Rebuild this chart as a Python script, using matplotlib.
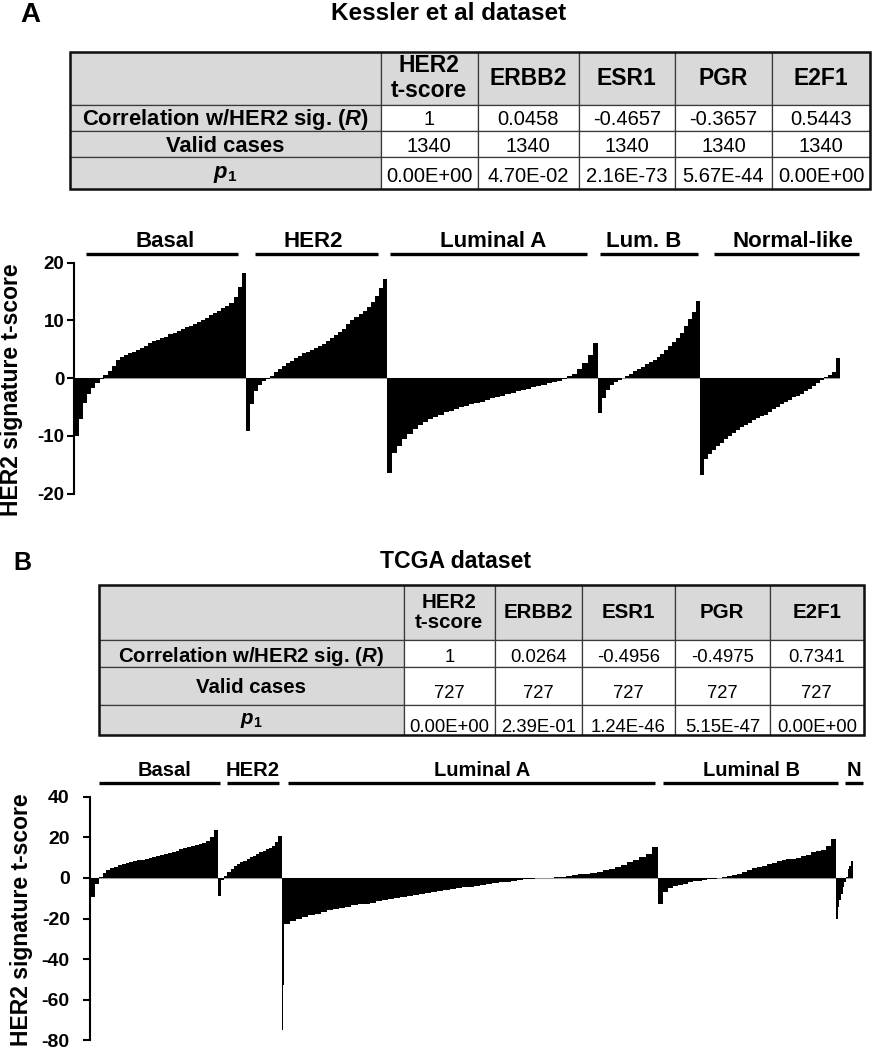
import numpy as np
import matplotlib
matplotlib.use("Agg")
import matplotlib.pyplot as plt
from matplotlib.patches import Rectangle

plt.rcParams['font.family'] = ['Liberation Sans', 'DejaVu Sans']
plt.rcParams['mathtext.fontset'] = 'custom'
plt.rcParams['mathtext.rm'] = 'Liberation Sans'
plt.rcParams['mathtext.it'] = 'Liberation Sans:italic'
plt.rcParams['mathtext.bf'] = 'Liberation Sans:bold'
try:
    plt.rcParams['mathtext.bfit'] = 'Liberation Sans:italic:bold'
    R_LABEL = r"Correlation w/HER2 sig. ($\mathbfit{R}$)"
    P_LABEL = r"$\mathbfit{p}_{\mathbf{1}}$"
except KeyError:
    R_LABEL = r"Correlation w/HER2 sig. ($\mathit{R}$)"
    P_LABEL = r"$\mathit{p}_{\mathbf{1}}$"

# ---------------- data ----------------
table_cols = ["HER2\nt-score", "ERBB2", "ESR1", "PGR", "E2F1"]
table_rows = [R_LABEL, "Valid cases", P_LABEL]

kessler_r = ["1", "0.0458", "-0.4657", "-0.3657", "0.5443"]
kessler_valid = ["1340", "1340", "1340", "1340", "1340"]
kessler_p = ["0.00E+00", "4.70E-02", "2.16E-73", "5.67E-44", "0.00E+00"]

tcga_r = ["1", "0.0264", "-0.4956", "-0.4975", "0.7341"]
tcga_valid = ["727", "727", "727", "727", "727"]
tcga_p = ["0.00E+00", "2.39E-01", "1.24E-46", "5.15E-47", "0.00E+00"]

kessler_groups = ["Basal", "HER2", "Luminal A", "Lum. B", "Normal-like"]
kessler_counts = [299, 247, 370, 178, 246]
kessler_basal = [-10.0, -7.0, -4.3, -2.8, -1.7, -0.9, -0.2, 0.6, 1.3, 2.1, 3.2, 3.6,
                 4.0, 4.3, 4.6, 4.8, 5.2, 5.6, 6.1, 6.4, 6.7, 7.0, 7.2, 7.6, 7.9, 8.2,
                 8.5, 8.8, 9.1, 9.4, 9.8, 10.1, 10.5, 11.0, 11.3, 11.7, 12.1, 12.5,
                 13.0, 14.0, 15.8, 18.3]
kessler_her2 = [-9.2, -4.5, -2.2, -1.1, -0.5, -0.1, 0.4, 1.0, 1.6, 2.1, 2.6, 3.0,
                3.5, 3.9, 4.3, 4.6, 4.9, 5.2, 5.6, 6.0, 6.4, 6.9, 7.4, 8.0, 8.6, 9.3,
                10.0, 10.6, 11.1, 11.7, 12.4, 13.2, 14.3, 15.6, 17.2]
kessler_luma = [-16.4, -13.0, -11.8, -10.6, -9.6, -8.8, -8.1, -7.6, -7.1, -6.7,
                -6.3, -5.9, -5.6, -5.3, -5.0, -4.75, -4.5, -4.3, -4.05, -3.8, -3.5,
                -3.25, -3.0, -2.75, -2.55, -2.3, -2.05, -1.8, -1.55, -1.35, -1.15,
                -0.9, -0.6, -0.4, -0.1, 0.3, 0.8, 1.6, 2.7, 4.0, 6.1]
kessler_lumb = [-6.1, -3.5, -2.0, -1.2, -0.7, -0.3, 0.0, 0.3, 0.8, 1.2, 1.6, 2.0,
                2.4, 2.8, 3.2, 3.6, 4.2, 4.9, 5.6, 6.3, 7.0, 7.9, 9.0, 10.2, 11.5, 13.4]
kessler_normal = [-16.8, -14.0, -13.2, -12.5, -11.8, -11.2, -10.6, -10.0, -9.5, -9.0,
                  -8.5, -8.1, -7.7, -7.3, -6.9, -6.6, -6.3, -5.9, -5.4, -5.0, -4.5,
                  -4.1, -3.7, -3.3, -3.0, -2.7, -2.3, -1.9, -1.4, -0.8, -0.3, 0.2,
                  0.5, 1.0, 3.5]

tcga_groups = ["Basal", "HER2", "Luminal A", "Luminal B", "N"]
tcga_counts = [121, 61, 359, 170, 16]
tcga_basal = [-9.5, -3.0, 0.3, 2.2, 3.8, 4.8, 5.5, 6.2, 6.8, 7.3, 7.8, 8.3, 8.6, 9.0,
              9.3, 9.6, 10.1, 10.6, 11.1, 11.6, 12.1, 12.7, 13.4, 14.0, 14.5, 15.0,
              15.5, 16.0, 16.6, 17.3, 18.2, 20.0, 23.5]
tcga_her2 = [-8.7, -1.0, 0.8, 2.8, 4.5, 5.8, 6.9, 7.7, 8.5, 9.4, 10.2, 11.0, 11.8,
             12.6, 13.4, 14.1, 14.8, 15.8, 17.5, 20.8]
# two single extreme samples at the start of Luminal A
tcga_luma_outliers = [-75.0, -53.0]
tcga_luma = [-22.6, -21.4, -20.4, -19.5, -18.4, -17.6, -16.7, -16.0, -15.2,
             -14.7, -14.2, -13.5, -13.1, -12.7, -12.2, -11.6, -11.1, -10.5, -10.0,
             -9.5, -9.0, -8.5, -8.0, -7.4, -6.9, -6.4, -6.0, -5.6, -5.1, -4.7, -4.3,
             -3.9, -3.5, -3.1, -2.7, -2.2, -1.8, -1.4, -1.0, -0.7, -0.4, -0.2, -0.1,
             0.0, 0.2, 0.6, 1.0, 1.4, 1.7, 2.0, 2.5, 3.0, 3.7, 4.5, 5.4, 6.5, 7.7,
             9.0, 10.2, 11.8, 15.0]
tcga_lumb = [-12.8, -7.0, -5.2, -4.2, -3.4, -2.8, -2.2, -1.7, -1.3, -1.0, -0.7, -0.4,
             -0.1, 0.3, 0.7, 1.2, 2.0, 3.0, 4.1, 4.9, 5.5, 6.1, 6.8, 7.5, 8.2, 8.7,
             9.1, 9.5, 10.0, 10.6, 11.5, 12.6, 13.3, 13.9, 15.5, 19.2]
tcga_normal = [-20.2, -14.4, -11.1, -7.9, -4.6, -2.1, 0.3, 4.4, 6.1, 8.5]

# ---------------- layout ----------------
W, H = 873, 1050
fig = plt.figure(figsize=(W / 100, H / 100), dpi=100)
bg = fig.add_axes([0, 0, 1, 1])
bg.set_xlim(0, W)
bg.set_ylim(H, 0)
bg.axis('off')


def px_axes(x0, y0, x1, y1):
    return fig.add_axes([x0 / W, 1 - y1 / H, (x1 - x0) / W, (y1 - y0) / H])


def draw_table(col_edges, row_edges, cells, fs_head, fs_bold, fs_num, lab_dy, num_dy):
    grey = '#d9d9d9'
    nr = len(row_edges) - 1
    nc = len(col_edges) - 1
    for r in range(nr):
        for c in range(nc):
            x0, x1 = col_edges[c], col_edges[c + 1]
            y0, y1 = row_edges[r], row_edges[r + 1]
            fc = grey if (r == 0 or c == 0) else 'white'
            bg.add_patch(Rectangle((x0, y0), x1 - x0, y1 - y0, facecolor=fc,
                                   edgecolor='#3a3a3a', linewidth=0.9))
    bg.add_patch(Rectangle((col_edges[0], row_edges[0]), col_edges[-1] - col_edges[0],
                           row_edges[-1] - row_edges[0], fill=False,
                           edgecolor='#111111', linewidth=1.8))
    for c, lab in enumerate(table_cols):
        cx = (col_edges[c + 1] + col_edges[c + 2]) / 2
        cy = (row_edges[0] + row_edges[1]) / 2
        bg.text(cx, cy, lab, ha='center', va='center', fontsize=fs_head,
                fontweight='bold', linespacing=1.1)
    for r, lab in enumerate(table_rows):
        cx = (col_edges[0] + col_edges[1]) / 2
        cy = (row_edges[r + 1] + row_edges[r + 2]) / 2
        bg.text(cx, cy + lab_dy[r], lab, ha='center', va='center', fontsize=fs_bold,
                fontweight='bold')
        for c, val in enumerate(cells[r]):
            vx = (col_edges[c + 1] + col_edges[c + 2]) / 2
            bg.text(vx, cy + num_dy[r], val, ha='center', va='center',
                    fontsize=fs_num)


def draw_chart(ax, counts, series, groups, spans, label_dx, line_y, label_y,
               ylim, yticks, tick_fs, tick_pad, label_fs):
    start = 0
    for c, (single, vals) in zip(counts, series):
        single = np.asarray(single, float)
        if len(single):
            xs = start + np.arange(len(single))
            ax.bar(xs, single, width=1.0, align='edge', color='black', linewidth=0)
        vals = np.asarray(vals, float)
        s0 = start + len(single)
        w = (c - len(single)) / len(vals)
        x = s0 + w * np.arange(len(vals))
        ax.bar(x, vals, width=w * 1.03, align='edge', color='black', linewidth=0)
        start += c
    total = sum(counts)
    ax.plot([0, total], [0, 0], color='#9a9a9a', lw=0.8, zorder=0.5)
    ax.set_ylim(*ylim)
    ax.set_yticks(yticks)
    ax.set_yticklabels([str(t) for t in yticks], fontsize=tick_fs, fontweight='bold')
    ax.tick_params(axis='y', direction='out', length=5, width=1.5, pad=tick_pad)
    ax.set_xticks([])
    for s in ['top', 'right', 'bottom']:
        ax.spines[s].set_visible(False)
    ax.spines['left'].set_linewidth(1.5)
    start = 0
    for g, c, (pl, pr), dx in zip(groups, counts, spans, label_dx):
        x0, x1 = start + pl, start + c - pr
        ax.plot([x0, x1], [line_y, line_y], color='black', lw=2.4,
                solid_capstyle='butt', clip_on=False)
        ax.text((x0 + x1) / 2 + dx, label_y, g, ha='center', va='baseline',
                fontsize=label_fs, fontweight='bold', clip_on=False)
        start += c


# ---- Panel A ----
bg.text(30, 15, "A", ha='center', va='center', fontsize=20, fontweight='bold')
bg.text(449, 14, "Kessler et al dataset", ha='center', va='center', fontsize=17.5,
        fontweight='bold')
draw_table([70, 381, 477.5, 578.7, 675, 772, 870], [51.7, 105, 130.7, 157.3, 189.3],
           [kessler_r, kessler_valid, kessler_p], 16.5, 15.8, 14.5,
           [1.5, 2, 1.5], [1.5, 2, 3])

pxs_a = 765 / sum(kessler_counts)
axA = px_axes(74, 262.7, 75 + sum(kessler_counts) * pxs_a, 493.7)
axA.set_xlim(-1 / pxs_a, sum(kessler_counts))
draw_chart(axA, kessler_counts,
           [([], kessler_basal), ([], kessler_her2), ([], kessler_luma),
            ([], kessler_lumb), ([], kessler_normal)],
           kessler_groups,
           [(19, 14), (16, 15), (5.5, 19), (3, 3), (25, -33)],
           [6, -5, 8, -9, 11],
           21.45, 22.8, (-20, 20), [-20, -10, 0, 10, 20], 13.5, 2, 16)
fig.text(12 / W, 1 - 390 / H, "HER2 signature t-score", rotation=90, ha='center',
         va='center', fontsize=16.5, fontweight='bold')

# ---- Panel B ----
bg.text(22, 563, "B", ha='center', va='center', fontsize=18, fontweight='bold')
bg.text(456, 562, "TCGA dataset", ha='center', va='center', fontsize=16.6,
        fontweight='bold')
draw_table([99, 403.5, 495, 581.5, 675, 769.6, 864], [585, 640, 666.7, 705, 735],
           [tcga_r, tcga_valid, tcga_p], 14.8, 14.7, 13.3,
           [3, 2, 0], [4, 8, 8])

pxs_b = 761.7 / sum(tcga_counts)
axB = px_axes(90, 796.7, 91 + sum(tcga_counts) * pxs_b, 1040.3)
axB.set_xlim(-1 / pxs_b, sum(tcga_counts))
draw_chart(axB, tcga_counts,
           [([], tcga_basal), ([], tcga_her2), (tcga_luma_outliers, tcga_luma),
            ([], tcga_lumb), ([], tcga_normal)],
           tcga_groups,
           [(7.6, -2), (8.5, 2.3), (6.3, 2.7), (4.7, -2.3), (8.7, -10.1)],
           [5, 0, 9.6, 1, 0],
           46.9, 50.2, (-80, 40), [-80, -60, -40, -20, 0, 20, 40], 14, 9.5, 14.5)
fig.text(22 / W, 1 - 920 / H, "HER2 signature t-score", rotation=90, ha='center',
         va='center', fontsize=16.5, fontweight='bold')

fig.savefig("out.png", dpi=100)
